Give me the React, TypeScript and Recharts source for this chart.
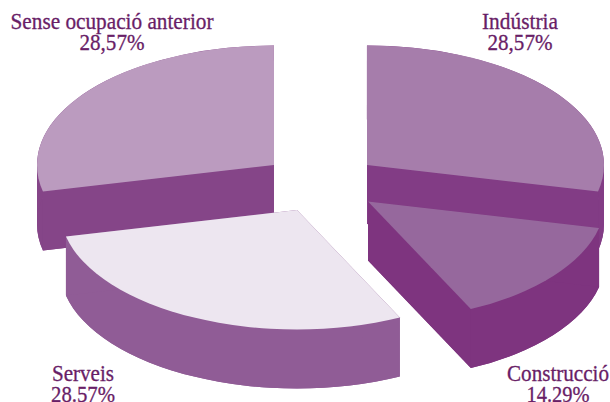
import React from 'react';
import { PieChart, Pie, Cell } from 'recharts';

const categories = ['Sense ocupació anterior', 'Indústria', 'Construcció', 'Serveis'];
const shares = [28.57, 28.57, 14.29, 28.57];
const shareLabels = ['28,57%', '28,57%', '14.29%', '28.57%'];

const TOP_COLORS = ['#bb9bbf', '#a67dab', '#96689d', '#ede6f0'];
const SIDE_COLORS = ['#854588', '#823c85', '#7e347f', '#905c96'];
// how far each slice is pulled out of the pie
const EXPLODE = [[-46, 0], [47, 0], [48, 36.5], [-23, 45]];
// centre x and first baseline of each label
const LABEL_POS = [[112, 29], [520, 29], [558, 381], [83, 381]];
const LABEL_WIDTH = [203, 76, 102, 62];
const SHARE_WIDTH = [65, 65, 63, 64];

const TEXT_COLOR = '#691e67';
const SQUASH = 0.504;
const DEPTH = 59;

const chartData = categories.map((name, i) => ({ name, value: shares[i] }));

// Flat pie sector turned into a tilted slab
const Slice3D = (props: any) => {
  const { cx, cy, outerRadius, startAngle, endAngle, index } = props;
  const rx = outerRadius;
  const ry = outerRadius * SQUASH;
  const x0 = cx + EXPLODE[index][0];
  const y0 = cy + EXPLODE[index][1];
  const rad = Math.PI / 180;
  const px = (a: number) => x0 + rx * Math.cos(a * rad);
  const py = (a: number) => y0 - ry * Math.sin(a * rad);
  const sx = px(startAngle);
  const sy = py(startAngle);
  const ex = px(endAngle);
  const ey = py(endAngle);

  const sector = (dy: number) =>
    `M${x0},${y0 + dy}L${sx},${sy + dy}A${rx},${ry} 0 0 1 ${ex},${ey + dy}Z`;
  const rimPart = (a: number, b: number) =>
    `M${px(a)},${py(a)}A${rx},${ry} 0 0 1 ${px(b)},${py(b)}L${px(b)},${py(b) + DEPTH}A${rx},${ry} 0 0 0 ${px(a)},${py(a) + DEPTH}Z`;
  // the rim folds back on itself at the far left and right of the ellipse, so split it there
  const stops = [startAngle, 180, 0, endAngle].filter(
    (a, i) => i === 0 || i === 3 || (a < startAngle && a > endAngle)
  );
  const rims = stops.slice(1).map((b, i) => rimPart(stops[i], b));
  const cutA = `M${x0},${y0}L${sx},${sy}L${sx},${sy + DEPTH}L${x0},${y0 + DEPTH}Z`;
  const cutB = `M${x0},${y0}L${ex},${ey}L${ex},${ey + DEPTH}L${x0},${y0 + DEPTH}Z`;
  const side = SIDE_COLORS[index];

  return (
    <g>
      <path d={sector(DEPTH)} fill={side} />
      {rims.map((d, i) => <path key={i} d={d} fill={side} />)}
      <path d={cutA} fill={side} />
      <path d={cutB} fill={side} />
      <path d={sector(0)} fill={props.fill} />
    </g>
  );
};

const SliceLabel = ({ index }: any) => {
  const [x, y] = LABEL_POS[index];
  return (
    <text
      textAnchor="middle"
      fill={TEXT_COLOR}
      stroke={TEXT_COLOR}
      strokeWidth={0.3}
      fontFamily="'Liberation Serif', serif"
      fontSize={23}
    >
      <tspan x={x} y={y} textLength={LABEL_WIDTH[index]} lengthAdjust="spacingAndGlyphs">
        {categories[index]}
      </tspan>
      <tspan x={x} y={y + 20.5} textLength={SHARE_WIDTH[index]} lengthAdjust="spacingAndGlyphs">
        {shareLabels[index]}
      </tspan>
    </text>
  );
};

const App = () => (
  <div style={{ position: 'absolute', left: 0, top: 0, width: 610, height: 402, overflow: 'hidden', background: '#fff' }}>
    <PieChart width={610} height={402} margin={{ top: 0, right: 0, bottom: 0, left: 0 }}>
      <Pie
        data={chartData}
        dataKey="value"
        nameKey="name"
        cx={320}
        cy={165}
        innerRadius={0}
        outerRadius={237}
        startAngle={192.86}
        endAngle={-167.14}
        stroke="none"
        isAnimationActive={false}
        shape={Slice3D}
        label={SliceLabel}
        labelLine={false}
      >
        {chartData.map((entry, index) => (
          <Cell key={`cell-${index}`} fill={TOP_COLORS[index]} />
        ))}
      </Pie>
    </PieChart>
  </div>
);

export default App;
